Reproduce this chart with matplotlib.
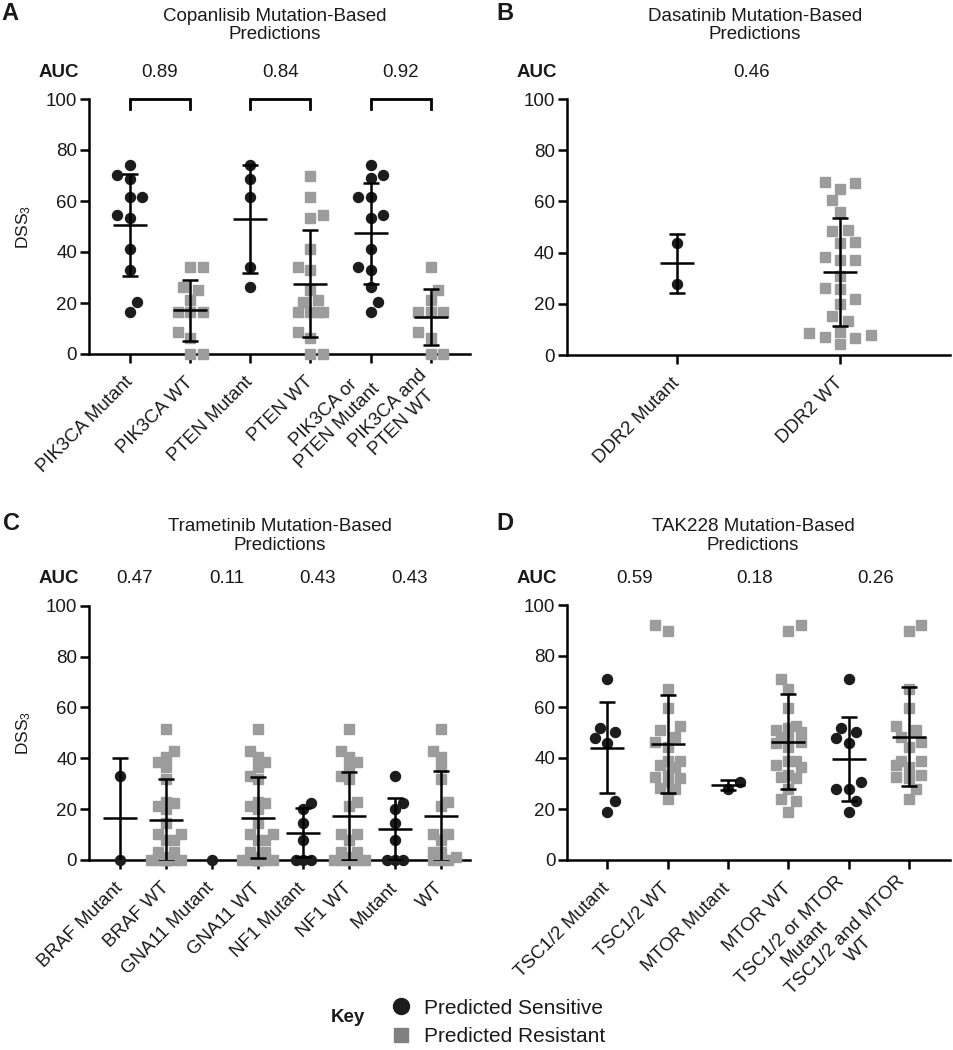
import numpy as np
import matplotlib
matplotlib.use("Agg")
import matplotlib.pyplot as plt
from matplotlib.lines import Line2D

plt.rcParams['font.family'] = ['Liberation Sans', 'DejaVu Sans']
plt.rcParams['mathtext.fontset'] = 'custom'
plt.rcParams['mathtext.rm'] = 'Liberation Sans'
plt.rcParams['mathtext.it'] = 'Liberation Sans:italic'

# ---- data ----
# A: Copanlisib
cop_labels = ["PIK3CA Mutant", "PIK3CA WT", "PTEN Mutant", "PTEN WT",
              "PIK3CA or\nPTEN Mutant", "PIK3CA and\nPTEN WT"]
cop_kind = ["S", "R", "S", "R", "S", "R"]
cop_values = [
    [74.1, 70.2, 68.6, 61.7, 61.7, 54.5, 53.5, 41.2, 32.9, 20.5, 16.3],
    [34.2, 34.2, 26.4, 25.1, 21.2, 16.3, 16.3, 16.3, 8.7, 6.4, 0, 0],
    [74.1, 68.6, 61.7, 34.2, 26.4],
    [69.9, 61.4, 54.5, 53.2, 41.2, 34.2, 32.9, 25.1, 21.2, 20.5,
     16.3, 16.3, 16.3, 16.3, 8.7, 6.4, 0, 0],
    [74.1, 70.1, 68.9, 61.7, 61.7, 54.5, 53.2, 41.2, 34.2, 32.9, 26.4, 20.5, 16.3],
    [34.2, 25.1, 21.2, 16.3, 16.3, 16.3, 8.7, 6.4, 0, 0],
]
cop_mean = [50.4, 17.1, 53.1, 27.5, 47.4, 14.6]
cop_sd = [20.0, 11.9, 21.2, 21.0, 19.8, 10.9]
cop_auc = [0.89, 0.84, 0.92]

# B: Dasatinib
das_labels = ["DDR2 Mutant", "DDR2 WT"]
das_kind = ["S", "R"]
das_values = [
    [43.6, 27.6],
    [67.7, 67.3, 64.8, 60.5, 56.0, 48.8, 48.4, 44.3, 43.9, 38.4, 37.3, 37.1,
     30.9, 26.0, 25.7, 21.9, 19.8, 15.4, 13.3, 9.1, 8.5, 8.0, 7.2, 6.5, 4.2],
]
das_mean = [35.8, 32.4]
das_sd = [11.4, 21.0]
das_auc = [0.46]

# C: Trametinib
tra_labels = ["BRAF Mutant", "BRAF WT", "GNA11 Mutant", "GNA11 WT",
              "NF1 Mutant", "NF1 WT", "Mutant", "WT"]
tra_kind = ["S", "R", "S", "R", "S", "R", "S", "R"]
tra_values = [
    [33.0, 0],
    [51.4, 42.9, 40.6, 38.7, 36.4, 31.7, 22.9, 22.3, 21.2, 19.9, 14.4, 10.2,
     10.2, 7.9, 7.9, 3.3, 3.3, 1.0, 0, 0, 0, 0, 0, 0, 0],
    [0],
    [51.4, 42.9, 40.6, 38.7, 36.4, 33.0, 31.7, 22.9, 22.3, 21.2, 19.9, 14.4,
     10.2, 10.2, 7.9, 7.9, 3.3, 3.3, 1.0, 0, 0, 0, 0, 0, 0, 0, 0],
    [22.3, 19.9, 14.4, 7.9, 0, 0, 0],
    [51.4, 42.9, 40.6, 38.7, 36.4, 33.0, 31.7, 22.9, 21.2, 10.2, 10.2, 7.9,
     3.3, 3.3, 1.0, 0, 0, 0, 0, 0],
    [33.0, 22.3, 19.9, 14.4, 7.9, 0, 0, 0],
    [51.4, 42.9, 40.6, 36.4, 31.7, 22.9, 21.2, 10.2, 10.2, 7.9, 3.3, 3.3, 1.0, 0, 0, 0],
]
tra_mean = [16.6, 15.7, 0.0, 16.6, 10.7, 17.4, 12.3, 17.4]
tra_sd = [23.4, 16.0, np.nan, 15.9, 9.6, 17.3, 12.2, 17.6]
tra_auc = [0.47, 0.11, 0.43, 0.43]

# D: TAK228
tak_labels = ["TSC1/2 Mutant", "TSC1/2 WT", "MTOR Mutant", "MTOR WT",
              "TSC1/2 or MTOR\nMutant", "TSC1/2 and MTOR\nWT"]
tak_kind = ["S", "R", "S", "R", "S", "R"]
tak_values = [
    [71.0, 51.6, 50.1, 47.7, 45.8, 23.3, 18.7],
    [92.2, 89.9, 66.9, 59.7, 52.5, 51.0, 48.1, 46.1, 44.4, 38.9, 38.9, 37.3,
     36.6, 33.3, 32.7, 32.2, 30.7, 28.1, 27.7, 23.8],
    [30.7, 27.8],
    [92.2, 89.9, 71.0, 66.9, 59.7, 52.5, 51.6, 51.0, 50.1, 48.1, 47.7, 46.1,
     45.8, 44.4, 38.9, 38.9, 37.3, 36.6, 33.3, 32.7, 32.2, 27.7, 23.8, 23.3, 18.7],
    [71.0, 51.6, 50.1, 47.7, 45.8, 30.7, 27.8, 27.8, 23.3, 18.7],
    [92.2, 89.9, 66.9, 59.7, 52.5, 51.0, 48.1, 46.1, 44.4, 38.9, 38.9, 37.3,
     36.6, 33.3, 32.7, 32.2, 27.7, 23.8],
]
tak_mean = [44.1, 45.5, 29.5, 46.4, 39.5, 48.4]
tak_sd = [17.8, 19.2, 2.0, 18.6, 16.4, 19.3]
tak_auc = [0.59, 0.18, 0.26]

SENS = "#1c1c1c"
RES = "#9c9c9c"
TXT = "#1a1a1a"
W, H = 954, 1050
FS = 13.5

# sideways slots (pixels) a point may take in its column
SLOTS_NARROW = [0, 7.5, 12.5]
SLOTS_DENSE = [0, 7.7, 15.4]
SLOTS_WIDE = [0, 7.7, 15.4, 23.0, 30.7, 38.4]


def box(left, top, right, bottom):
    return [left / W, 1 - bottom / H, (right - left) / W, (bottom - top) / H]


def swarm(vals, x_ppu, y_ppu, slots, dmin):
    # simple beeswarm: nearest free slot to the centre, alternating sides
    vals = np.asarray(vals, dtype=float)
    offs = np.zeros(len(vals))
    placed = []
    side = 1
    for i in np.argsort(vals, kind="stable"):
        y = vals[i] * y_ppu
        best, best_d = 0, -1
        cands = [0]
        for s in slots[1:]:
            cands += [s * side, -s * side]
        for x in cands:
            d = min([np.hypot(x - px, y - py) for px, py in placed] or [1e9])
            if d >= dmin:
                best, best_d = x, d
                break
            if d > best_d:
                best, best_d = x, d
        if best != 0:
            side = -side
        placed.append((best, y))
        offs[i] = best / x_ppu
    return offs


def draw_panel(ax, labels, values, kinds, means, sds, xlim,
               slots=SLOTS_NARROW, dmin=12.0, ylabel=True):
    ax.set_xlim(*xlim)
    ax.set_ylim(0, 100)
    pos = ax.get_position()
    x_ppu = pos.width * W / (xlim[1] - xlim[0])
    y_ppu = pos.height * H / 100
    for i, vals in enumerate(values):
        offs = swarm(vals, x_ppu, y_ppu, slots, dmin)
        if kinds[i] == "S":
            ax.plot(i + offs, vals, ls="", marker="o", ms=7.2, color=SENS,
                    clip_on=False, zorder=3)
        else:
            ax.plot(i + offs, vals, ls="", marker="s", ms=6.8, color=RES,
                    clip_on=False, zorder=3)
        if not np.isnan(sds[i]):
            ax.errorbar(i, means[i], yerr=sds[i], fmt="none", ecolor="black",
                        elinewidth=1.8, capsize=6, capthick=1.8, zorder=4)
            ax.plot(i, means[i], marker="_", ms=24, mew=1.8, color="black", zorder=4)
    for s in ["top", "right"]:
        ax.spines[s].set_visible(False)
    for s in ["left", "bottom"]:
        ax.spines[s].set_linewidth(1.8)
    ax.set_yticks(range(0, 101, 20))
    ax.set_xticks(range(len(labels)))
    ax.set_xticklabels(labels, rotation=45, ha="right", va="center",
                       rotation_mode="anchor", multialignment="center",
                       fontsize=FS, color=TXT)
    ax.tick_params(axis="both", direction="out", length=6.5, width=1.8,
                   labelsize=FS, colors="black", labelcolor=TXT)
    ax.tick_params(axis="x", pad=12)
    ax.tick_params(axis="y", pad=2)
    if ylabel:
        ax.set_ylabel(r"DSS$_3$", fontsize=12.5, color=TXT)
        ax.yaxis.set_label_coords(-56 / (pos.width * W), 0.5)


def auc_row(ax, aucs, pairs, shift=0.0):
    tr = ax.get_yaxis_transform()
    ax.text(-10 / (ax.get_position().width * W), 110.5, "AUC", transform=tr,
            ha="right", va="center", fontsize=FS, fontweight="bold", color=TXT,
            clip_on=False)
    for a, (i, j) in zip(aucs, pairs):
        ax.text((i + j) / 2 + shift, 110.5, "{:.2f}".format(a), ha="center",
                va="center", fontsize=FS, color=TXT, clip_on=False)


fig = plt.figure(figsize=(W / 100, H / 100), dpi=100)

axA = fig.add_axes(box(89, 99, 470, 354))
draw_panel(axA, cop_labels, cop_values, cop_kind, cop_mean, cop_sd, (-0.68, 5.65))
auc_row(axA, cop_auc, [(0, 1), (2, 3), (4, 5)])
for i, j in [(0, 1), (2, 3), (4, 5)]:
    axA.plot([i, i, j, j], [96, 100, 100, 96], color="black", lw=2.0,
             clip_on=False, solid_joinstyle="miter")

axB = fig.add_axes(box(566.7, 99, 950, 355))
draw_panel(axB, das_labels, das_values, das_kind, das_mean, das_sd,
           (-0.675, 1.675), slots=SLOTS_WIDE, dmin=12.5, ylabel=False)
auc_row(axB, das_auc, [(0, 1)], shift=-0.04)

axC = fig.add_axes(box(89, 605.7, 470, 860))
draw_panel(axC, tra_labels, tra_values, tra_kind, tra_mean, tra_sd, (-0.68, 7.64),
           slots=SLOTS_DENSE, dmin=7.5)
auc_row(axC, tra_auc, [(0, 1), (2, 3), (4, 5), (6, 7)], shift=-0.18)

axD = fig.add_axes(box(567.3, 605, 950, 860))
draw_panel(axD, tak_labels, tak_values, tak_kind, tak_mean, tak_sd,
           (-0.66, 5.68), ylabel=False)
auc_row(axD, tak_auc, [(0, 1), (2, 3), (4, 5)], shift=-0.05)

titles = [("A", 10, 13, 275, 25.5, "Copanlisib Mutation-Based\nPredictions"),
          ("B", 505, 13, 755, 25.5, "Dasatinib Mutation-Based\nPredictions"),
          ("C", 12, 523, 280, 536, "Trametinib Mutation-Based\nPredictions"),
          ("D", 505, 523, 753, 536, "TAK228 Mutation-Based\nPredictions")]
for letter, lx, ly, tx, ty, title in titles:
    fig.text(lx / W, 1 - ly / H, letter, fontsize=17, fontweight="bold",
             ha="center", va="center", color=TXT)
    fig.text(tx / W, 1 - ty / H, title, fontsize=FS, ha="center", va="center",
             linespacing=1.1, color=TXT)

# key
fig.text(348 / W, 1 - 1018 / H, "Key", fontsize=13.5, fontweight="bold",
         ha="center", va="center", color=TXT)
handles = [Line2D([], [], ls="", marker="o", ms=11.5, color=SENS),
           Line2D([], [], ls="", marker="s", ms=10.5, color="#808080")]
fig.legend(handles, ["Predicted Sensitive", "Predicted Resistant"],
           loc="center left", bbox_to_anchor=(391 / W, 1 - 1022.4 / H),
           frameon=False, fontsize=15, handlelength=1.0, handletextpad=0.6,
           labelspacing=0.45, borderpad=0, borderaxespad=0, labelcolor=TXT)

fig.savefig("out.png", dpi=100)
